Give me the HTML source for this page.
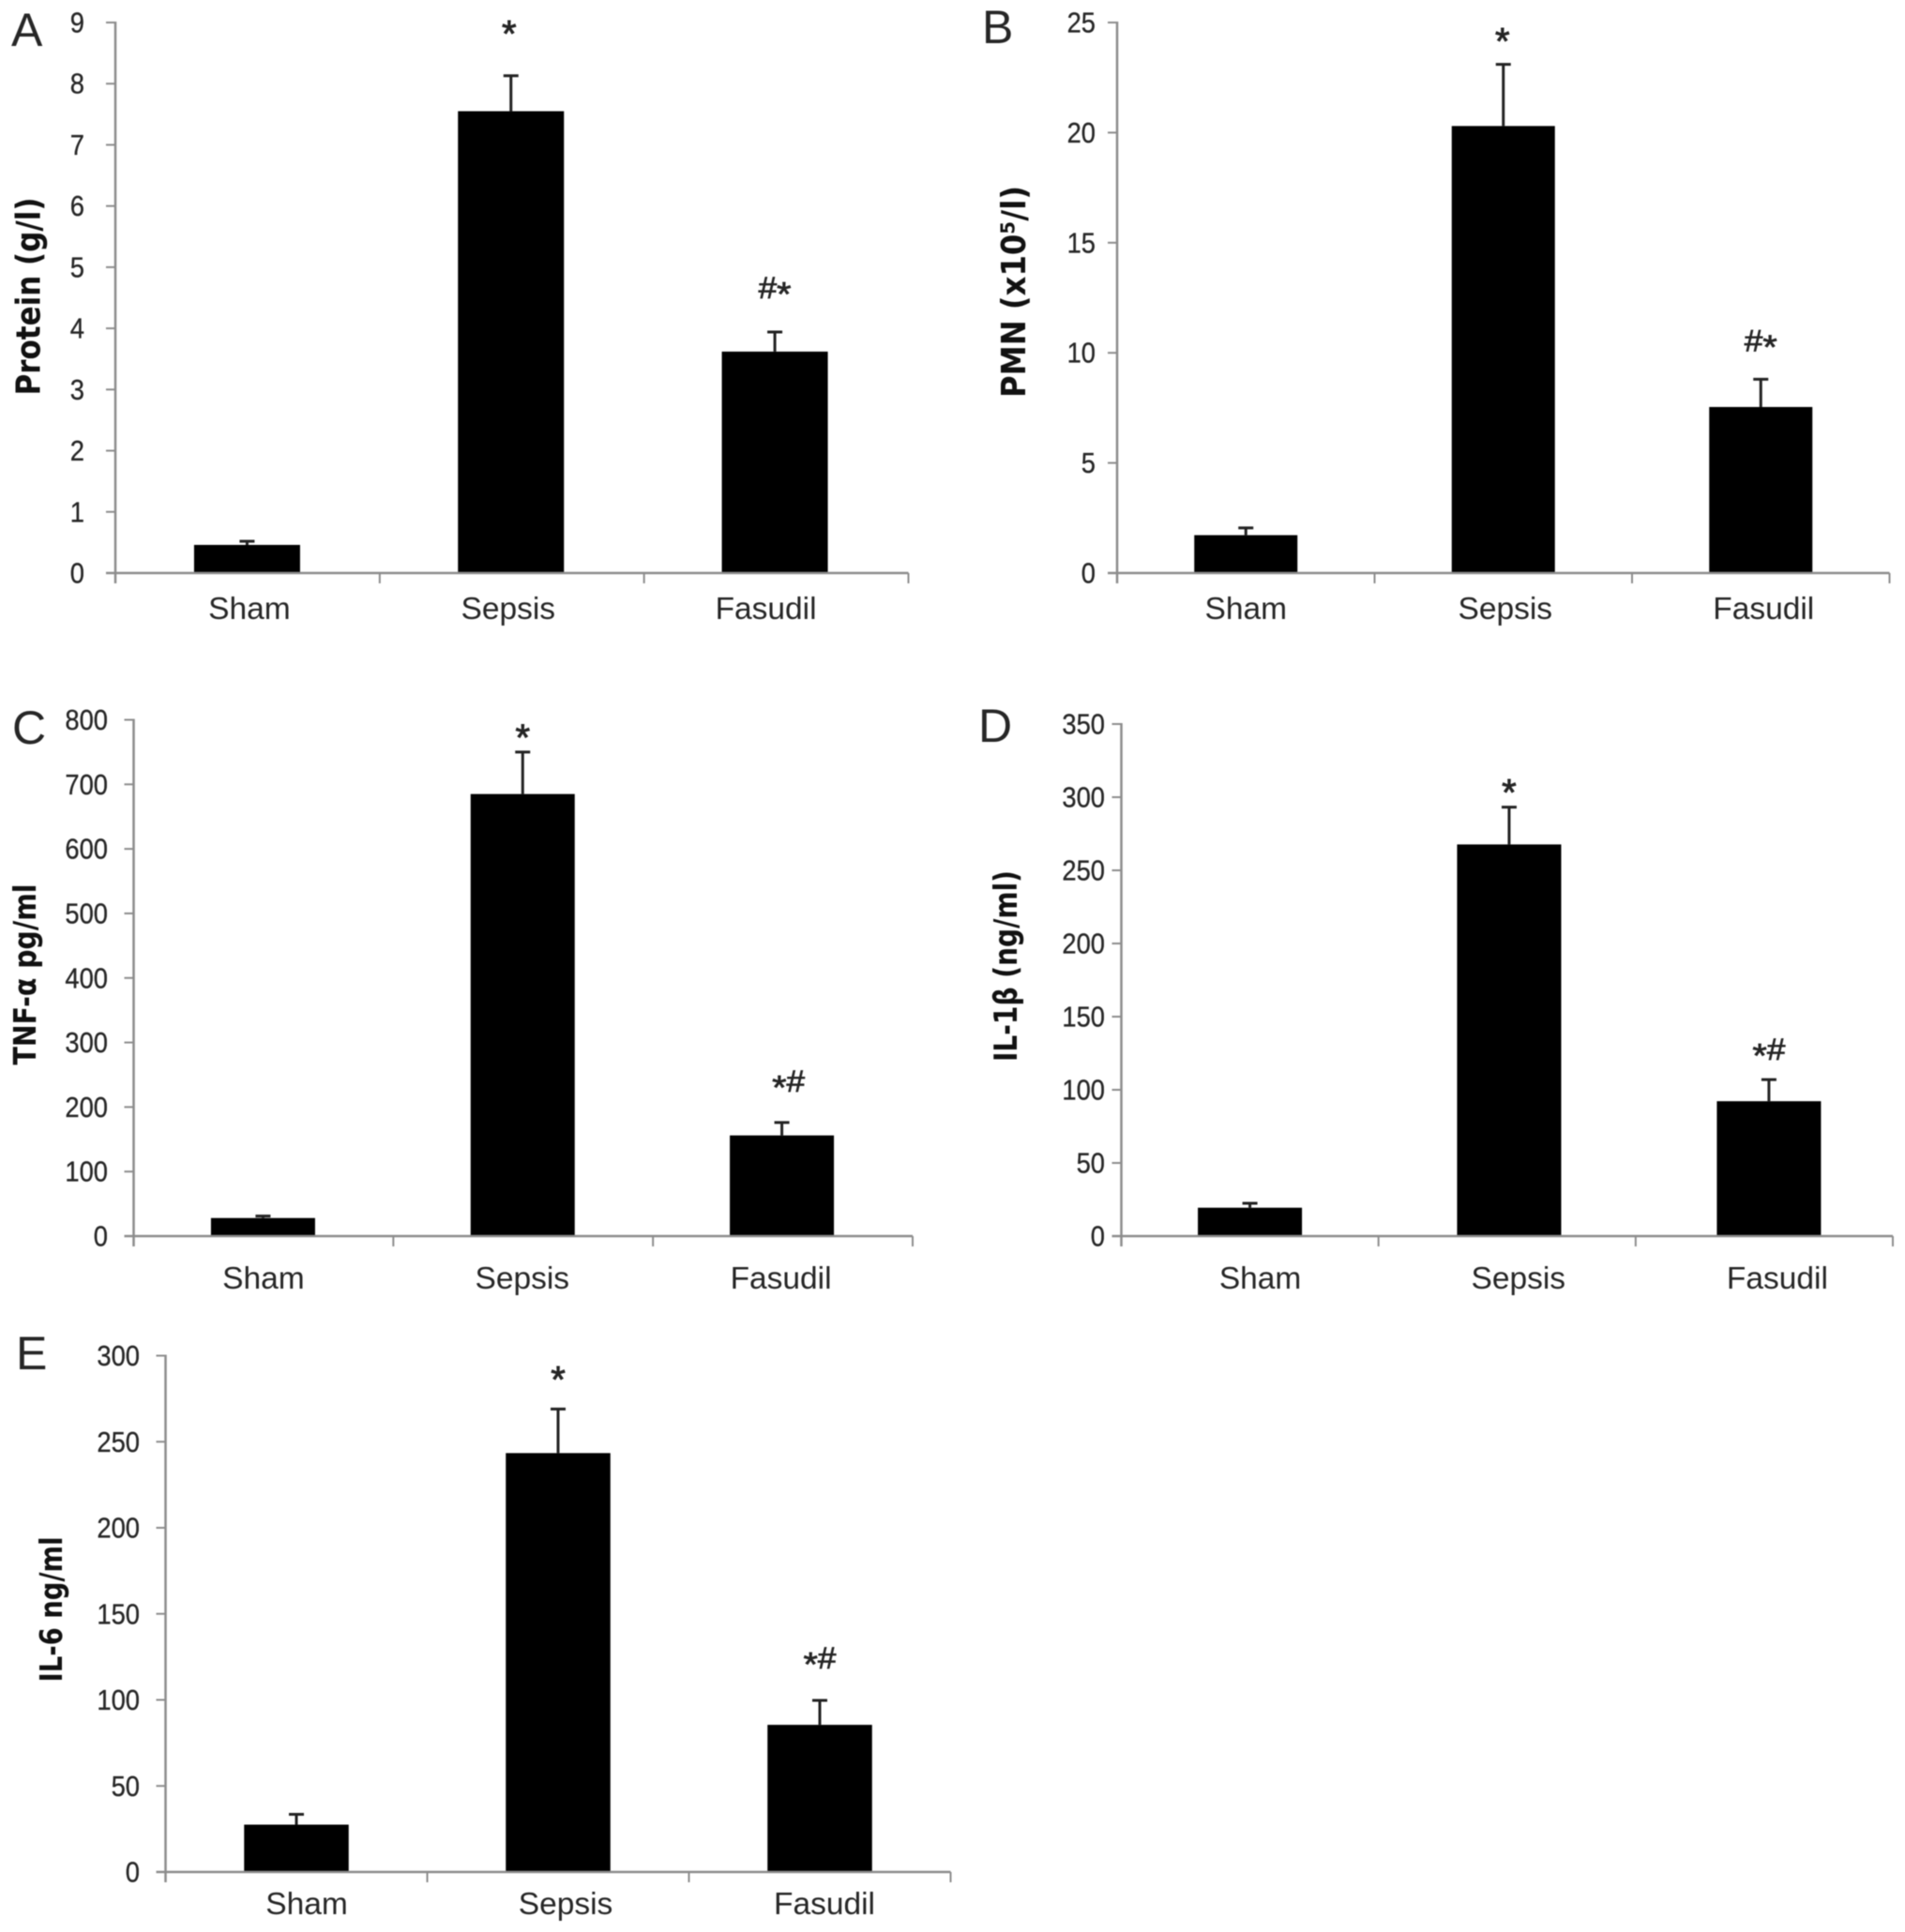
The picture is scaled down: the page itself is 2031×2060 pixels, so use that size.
<!DOCTYPE html>
<html lang="en">
<head>
<meta charset="utf-8">
<title>Lung injury markers: Sham, Sepsis and Fasudil</title>
<style>
html,body{margin:0;padding:0;background:#fff;width:2031px;height:2060px;overflow:hidden}
svg{display:block;filter:blur(0.5px)}
text{font-family:"Liberation Sans",sans-serif;fill:#262626}
.title{font-family:"DejaVu Sans","Liberation Sans",sans-serif;font-weight:700;fill:#111}
</style>
</head>
<body>
<svg id="figure" xmlns="http://www.w3.org/2000/svg" width="2031" height="2060" viewBox="0 0 2031 2060">
<rect x="0" y="0" width="2031" height="2060" fill="#ffffff"/>
</svg>
<script>
const categories = ['Sham', 'Sepsis', 'Fasudil'];

const proteinTicks = [0, 1, 2, 3, 4, 5, 6, 7, 8, 9];
const proteinValues = [0.46, 7.55, 3.62];
const proteinErrors = [0.06, 0.58, 0.32];
const proteinAnnotations = ['', '*', '#*'];

const pmnTicks = [0, 5, 10, 15, 20, 25];
const pmnValues = [1.72, 20.3, 7.54];
const pmnErrors = [0.33, 2.8, 1.26];
const pmnAnnotations = ['', '*', '#*'];

const tnfTicks = [0, 100, 200, 300, 400, 500, 600, 700, 800];
const tnfValues = [28, 685, 156];
const tnfErrors = [3, 65, 20];
const tnfAnnotations = ['', '*', '*#'];

const il1Ticks = [0, 50, 100, 150, 200, 250, 300, 350];
const il1Values = [19.4, 267.7, 92.2];
const il1Errors = [3, 25.5, 14.8];
const il1Annotations = ['', '*', '*#'];

const il6Ticks = [0, 50, 100, 150, 200, 250, 300];
const il6Values = [27.5, 243.4, 85.5];
const il6Errors = [6, 25.6, 14.2];
const il6Annotations = ['', '*', '*#'];

const SVG_NS = 'http://www.w3.org/2000/svg';
const figure = document.getElementById('figure');

function make(tag, attrs, parent) {
  const el = document.createElementNS(SVG_NS, tag);
  for (const k in attrs) el.setAttribute(k, attrs[k]);
  parent.appendChild(el);
  return el;
}

function drawPanel(p, ticks, values, errors, annotations) {
  const group = make('g', {}, figure);
  
  

  const maxTick = ticks[ticks.length - 1];
  const yScale = function (v) { return p.bottom - (v / maxTick) * (p.bottom - p.top); };
  const band = (p.right - p.left) / categories.length;
  const xCenter = function (i) { return p.left + band * (i + 0.5); };

  const letter = make('text', { x: p.letterX, y: p.letterY, 'font-size': 50, fill: '#222' }, group);
  letter.textContent = p.letter;
  
  

  const title = make('text', {
    class: 'title', 'font-size': p.titleSize, 'text-anchor': 'middle',
    transform: 'translate(' + p.titleX + ' ' + p.titleY + ') rotate(-90)',
    textLength: p.titleLength, lengthAdjust: 'spacingAndGlyphs'
  }, group);
  title.textContent = p.title;
  
  

  values.forEach(function (v, i) {
    const stemX = xCenter(i) + p.barShift[i];
    const bar = make('rect', { x: stemX - p.barWidth / 2, y: yScale(v), width: p.barWidth, height: p.bottom - yScale(v), fill: '#000' }, group);
    
    

    const capY = yScale(v + errors[i]);
    const stem = make('line', { x1: stemX, x2: stemX, y1: yScale(v), y2: capY, stroke: '#222', 'stroke-width': 3 }, group);
    
    

    const cap = make('line', { x1: stemX - 8, x2: stemX + 8, y1: capY, y2: capY, stroke: '#222', 'stroke-width': 3 }, group);
    
    

    if (annotations[i]) {
      const centerY = capY - p.annotationGap[i];
      const ax = stemX + p.annotationShift[i];
      const mark = make('text', { x: ax, 'text-anchor': 'middle', fill: '#222' }, group);
      
      
      if (annotations[i] === '*') {
        mark.setAttribute('font-size', 40);
        mark.setAttribute('y', centerY + 19);
        mark.setAttribute('stroke', '#222');
        mark.setAttribute('stroke-width', 0.9);
        mark.textContent = '*';
      } else {
        mark.setAttribute('font-size', 32);
        mark.setAttribute('y', centerY + 10);
        mark.setAttribute('stroke', '#222');
        mark.setAttribute('stroke-width', 0.7);
        mark.setAttribute('textLength', 35);
        mark.setAttribute('lengthAdjust', 'spacingAndGlyphs');
        annotations[i].split('').forEach(function (ch) {
          const part = make('tspan', {}, mark);
          part.textContent = ch;
          if (ch === '*') {
            part.setAttribute('font-size', 36);
            part.setAttribute('dy', 8);
          } else {
            part.setAttribute('dy', ch === annotations[i][0] ? 0 : -8);
          }
        });
      }
    }
  });

  const yAxis = make('line', { x1: p.left, x2: p.left, y1: p.top - 1, y2: p.bottom + 11, stroke: '#8c8c8c', 'stroke-width': 2.5 }, group);
  
  

  const xAxis = make('line', { x1: p.left - 10, x2: p.right, y1: p.bottom, y2: p.bottom, stroke: '#8c8c8c', 'stroke-width': 2.5 }, group);
  
  

  ticks.forEach(function (t) {
    const ty = yScale(t);
    const tick = make('line', { x1: p.left - 10, x2: p.left, y1: ty, y2: ty, stroke: '#8c8c8c', 'stroke-width': 2 }, group);
    
    

    const s = String(t);
    const label = make('text', {
      x: p.tickLabelEnd, y: ty + 10.5, 'font-size': 31, 'text-anchor': 'end',
      textLength: s.length * 15.2, lengthAdjust: 'spacingAndGlyphs',
      stroke: '#262626', 'stroke-width': 0.3
    }, group);
    label.textContent = s;
    
    
  });

  categories.forEach(function (c, i) {
    if (i > 0) {
      const tx = p.left + band * i;
      const tick = make('line', { x1: tx, x2: tx, y1: p.bottom, y2: p.bottom + 11, stroke: '#8c8c8c', 'stroke-width': 2 }, group);
      
      
    }

    const label = make('text', {
      x: xCenter(i) + p.labelShift[i], y: p.labelY, 'font-size': 33.5, 'text-anchor': 'middle'
    }, group);
    label.textContent = c;
    
    
  });

  const tickEnd = make('line', { x1: p.right, x2: p.right, y1: p.bottom, y2: p.bottom + 11, stroke: '#8c8c8c', 'stroke-width': 2 }, group);
  
  
}

drawPanel({
  key: 'a', letter: 'A', letterX: 12, letterY: 49,
  title: 'Protein (g/l)', titleSize: 36, titleX: 42.5, titleY: 316, titleLength: 211,
  left: 123, right: 968.5, top: 24, bottom: 611, barWidth: 113, barShift: [-0.5, -1, -1.5],
  tickLabelEnd: 90, labelY: 660, labelShift: [2, -4, -11],
  annotationGap: [0, 50, 46], annotationShift: [0, -2, 0]
}, proteinTicks, proteinValues, proteinErrors, proteinAnnotations);

drawPanel({
  key: 'b', letter: 'B', letterX: 1047, letterY: 46,
  title: 'PMN (x10\u2075/l)', titleSize: 36, titleX: 1093, titleY: 311, titleLength: 226,
  left: 1191, right: 2014.5, top: 24, bottom: 611, barWidth: 110, barShift: [0, 0, 0],
  tickLabelEnd: 1168, labelY: 660, labelShift: [0, 2, 3],
  annotationGap: [0, 30, 40], annotationShift: [0, -1, 0]
}, pmnTicks, pmnValues, pmnErrors, pmnAnnotations);

drawPanel({
  key: 'c', letter: 'C', letterX: 13, letterY: 793,
  title: 'TNF-\u03b1 pg/ml', titleSize: 33, titleX: 38, titleY: 1039, titleLength: 193,
  left: 142.5, right: 973, top: 767.5, bottom: 1318, barWidth: 111, barShift: [-0.5, -0.5, -1],
  tickLabelEnd: 115, labelY: 1374, labelShift: [0, -1, -2],
  annotationGap: [0, 21, 43], annotationShift: [0, 0, 7]
}, tnfTicks, tnfValues, tnfErrors, tnfAnnotations);

drawPanel({
  key: 'd', letter: 'D', letterX: 1043, letterY: 791,
  title: 'IL-1\u03b2 (ng/ml)', titleSize: 34, titleX: 1084, titleY: 1030, titleLength: 204,
  left: 1195.5, right: 2018, top: 772, bottom: 1318, barWidth: 111, barShift: [0, 2.2, 5],
  tickLabelEnd: 1178, labelY: 1374, labelShift: [11, 12, 14],
  annotationGap: [0, 21, 31], annotationShift: [0, 0, 0]
}, il1Ticks, il1Values, il1Errors, il1Annotations);

drawPanel({
  key: 'e', letter: 'E', letterX: 17, letterY: 1460,
  title: 'IL-6 ng/ml', titleSize: 33, titleX: 66, titleY: 1716, titleLength: 155,
  left: 176.5, right: 1013.5, top: 1445.5, bottom: 1996, barWidth: 111.5, barShift: [0, 0, 0],
  tickLabelEnd: 149, labelY: 2041, labelShift: [11, 8, 5],
  annotationGap: [0, 37, 44], annotationShift: [0, 0, 0]
}, il6Ticks, il6Values, il6Errors, il6Annotations);
</script>
</body>
</html>
